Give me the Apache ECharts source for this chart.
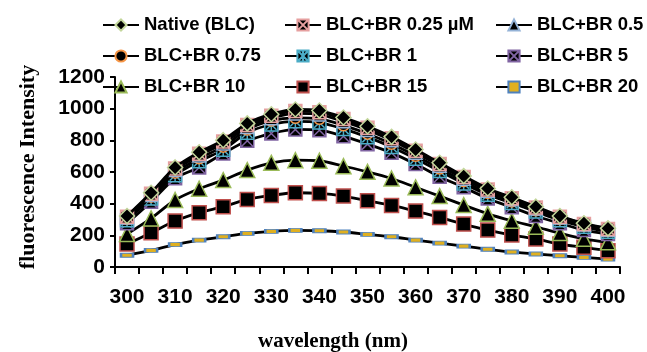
<!DOCTYPE html>
<html>
<head>
<meta charset="utf-8">
<script src="https://cdn.jsdelivr.net/npm/echarts@6/dist/echarts.min.js"></script>
<style>html,body{margin:0;padding:0;background:#fff}#c{width:647px;height:352px}</style>
</head>
<body>
<div id="c"></div>
<script>
var categories = ['300','305','310','315','320','325','330','335','340','345','350','355','360','365','370','375','380','385','390','395','400'];
var seriesNames = ['Native (BLC)','BLC+BR 0.25 \u00b5M','BLC+BR 0.5','BLC+BR 0.75','BLC+BR 1','BLC+BR 5','BLC+BR 10','BLC+BR 15','BLC+BR 20'];
var native   = [322,469,629,725,801,907,965,995,988,944,889,822,742,658,574,496,440,381,322,276,244];
var br025    = [318,462,622,716,792,897,955,985,978,934,880,813,734,651,568,490,434,376,318,272,240];
var br05     = [312,455,612,705,780,884,940,970,963,920,866,800,722,640,558,482,428,370,312,268,236];
var br075    = [303,444,596,687,760,868,925,942,936,895,842,778,702,622,542,468,414,358,302,260,228];
var br1      = [295,432,580,668,740,848,900,920,912,872,820,758,684,606,528,456,404,350,296,254,223];
var br5      = [276,412,560,629,717,797,843,869,864,826,776,721,650,570,503,433,377,322,276,233,208];
var br10     = [208,307,423,494,549,612,658,675,671,637,601,559,503,448,391,336,292,254,214,178,156];
var br15     = [145,216,290,343,381,427,452,469,465,448,418,389,353,313,271,233,202,177,145,124,103];
var br20     = [74,105,141,170,191,212,225,231,229,221,206,191,170,151,132,112,95,82,71,61,50];
var yTicks = {min:0, max:1200, interval:200};
var xTitle = 'wavelength (nm)';
var yTitle = 'fluorescence Intensity';

var allData = [native, br025, br05, br075, br1, br5, br10, br15, br20];
var xSq = 'path://M0,0L10,0L10,10L0,10ZM0,0L10,10M10,0L0,10';
var astSq = 'path://M0,0L10,0L10,10L0,10ZM1,1L9,9M9,1L1,9M5,0.5L5,9.5';
var styles = [
  {symbol:'diamond', size:15, border:'#C3D69B'},
  {symbol:xSq, size:13, border:'#E6A0A0'},
  {symbol:'triangle', size:13, border:'#95B3D7'},
  {symbol:'circle', size:11, border:'#F79646'},
  {symbol:astSq, size:13, border:'#4BACC6'},
  {symbol:xSq, size:13, border:'#8064A2'},
  {symbol:'triangle', size:15, border:'#9BBB59'},
  {symbol:'rect', size:14, border:'#C0504D'},
  {symbol:'rect', size:[12,4], border:'#4F81BD', fill:'#E0B020'}
];

var series = allData.map(function(d, i){
  var s = styles[i];
  return {
    name: seriesNames[i],
    type: 'line',
    data: d,
    smooth: 0.3,
    symbol: s.symbol,
    symbolSize: s.size,
    z: 20 - i,
    lineStyle: {color:'#000', width:2.8},
    itemStyle: {color: s.fill || '#000', borderColor: s.border, borderWidth: 1.5},
    emphasis: {disabled:true},
    animation: false
  };
});

var legendText = {fontFamily:'Liberation Sans', fontWeight:'bold', fontSize:18.5, color:'#000', lineHeight:20};
function mkLegend(names, left){
  return {
    data: names, orient:'vertical', left:left, top:15, padding:0,
    itemWidth:36, itemHeight:14, itemGap:11, textStyle:legendText,
    selectedMode:false
  };
}

var chart = echarts.init(document.getElementById('c'), null, {renderer:'canvas'});
chart.setOption({
  backgroundColor:'#fff',
  animation:false,
  legend: [
    mkLegend([seriesNames[0], seriesNames[3], seriesNames[6]], 102),
    mkLegend([seriesNames[1], seriesNames[4], seriesNames[7]], 284),
    mkLegend([seriesNames[2], seriesNames[5], seriesNames[8]], 495)
  ],
  grid: {left:115, right:27, top:77, bottom:85, containLabel:false},
  xAxis: {
    type:'category', data:categories, boundaryGap:true,
    axisLine:{lineStyle:{color:'#000', width:2}},
    axisTick:{show:true, interval:0, length:7, lineStyle:{color:'#000', width:2}},
    axisLabel:{interval:1, margin:20, fontFamily:'Liberation Sans', fontWeight:'bold', fontSize:21, color:'#000'},
    splitLine:{show:false}
  },
  yAxis: {
    type:'value', min:yTicks.min, max:yTicks.max, interval:yTicks.interval,
    axisLine:{show:true, lineStyle:{color:'#000', width:2}},
    axisTick:{show:true, length:5, lineStyle:{color:'#000', width:2}},
    axisLabel:{margin:10, fontFamily:'Liberation Sans', fontWeight:'bold', fontSize:21, color:'#000',
      formatter:function(v){return String(v);}},
    splitLine:{show:false}
  },
  graphic: [
    {type:'text', x:333, y:342, style:{text:xTitle, font:'bold 21px "Liberation Serif"', fill:'#000', align:'center', verticalAlign:'middle'}},
    {type:'text', x:28, y:167, rotation:Math.PI/2, style:{text:yTitle, font:'bold 22px "Liberation Serif"', fill:'#000', align:'center', verticalAlign:'middle'}}
  ],
  series: series
});
</script>
</body>
</html>
